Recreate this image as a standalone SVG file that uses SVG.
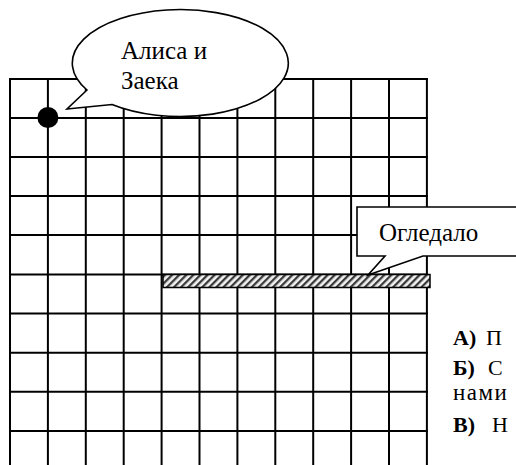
<svg xmlns="http://www.w3.org/2000/svg" width="516" height="465" viewBox="0 0 516 465">
<defs>
<pattern id="hatch" patternUnits="userSpaceOnUse" width="5" height="5" patternTransform="rotate(45)">
<rect width="5" height="5" fill="#f2f2f2"/>
<rect width="2.3" height="5" fill="#3a3a3a"/>
</pattern>
<style>
.grid line{stroke:#000;stroke-width:2}
.callout{fill:#fff;stroke:#000;stroke-width:1.6;stroke-linejoin:miter}
</style>
</defs>
<rect width="516" height="465" fill="#fff"/>
<g id="grid" class="grid">
<line x1="10" y1="79" x2="10" y2="465"/>
<line x1="47.9" y1="79" x2="47.9" y2="465"/>
<line x1="85.8" y1="79" x2="85.8" y2="465"/>
<line x1="123.7" y1="79" x2="123.7" y2="465"/>
<line x1="161.6" y1="79" x2="161.6" y2="465"/>
<line x1="199.5" y1="79" x2="199.5" y2="465"/>
<line x1="237.4" y1="79" x2="237.4" y2="465"/>
<line x1="275.3" y1="79" x2="275.3" y2="465"/>
<line x1="313.2" y1="79" x2="313.2" y2="465"/>
<line x1="351.1" y1="79" x2="351.1" y2="465"/>
<line x1="389" y1="79" x2="389" y2="465"/>
<line x1="426.9" y1="79" x2="426.9" y2="465"/>
<line x1="9" y1="79" x2="428" y2="79"/>
<line x1="9" y1="118" x2="428" y2="118"/>
<line x1="9" y1="157" x2="428" y2="157"/>
<line x1="9" y1="196" x2="428" y2="196"/>
<line x1="9" y1="235" x2="428" y2="235"/>
<line x1="9" y1="274.5" x2="428" y2="274.5"/>
<line x1="9" y1="313.6" x2="428" y2="313.6"/>
<line x1="9" y1="352.7" x2="428" y2="352.7"/>
<line x1="9" y1="391.8" x2="428" y2="391.8"/>
<line x1="9" y1="430.9" x2="428" y2="430.9"/>
</g>
<g id="mirror">
<rect x="163" y="274.5" width="267" height="13" fill="url(#hatch)" stroke="#000" stroke-width="1.5"/>
</g>
<g id="alice">
<circle cx="47.9" cy="117.5" r="10.5" fill="#000"/>
</g>
<g id="bubble">
<path class="callout" d="M87 90 L67 109 L112 104.5 A108 53.5 0 1 0 87 90 Z"/>
<g font-family="Liberation Serif, Tinos, DejaVu Serif, serif" font-size="25" fill="#000">
<text x="121" y="58.5">Алиса и</text>
<text x="121" y="89">Заека</text>
</g>
</g>
<g id="mirror-callout">
<path class="callout" stroke-width="2" d="M357 207 L530 207 L530 256 L423 256 L368 275 L385 256 L357 256 Z"/>
<text font-family="Liberation Serif, Tinos, DejaVu Serif, serif" font-size="25" fill="#000" x="379" y="241">Огледало</text>
</g>
<g id="options" font-family="Liberation Serif, Tinos, DejaVu Serif, serif" font-size="22" fill="#000">
<text x="453" y="345"><tspan font-weight="bold">А)</tspan><tspan x="486">П</tspan></text>
<text x="453" y="375"><tspan font-weight="bold">Б)</tspan><tspan x="488">С</tspan></text>
<text x="453" y="400" font-size="23" letter-spacing="1.5">нами</text>
<text x="453" y="432"><tspan font-weight="bold">В)</tspan><tspan x="492">Н</tspan></text>
</g>
</svg>
